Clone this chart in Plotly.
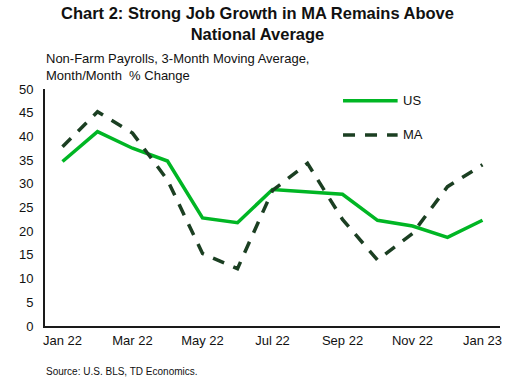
import plotly.graph_objects as go

months = ["Jan 22", "Feb 22", "Mar 22", "Apr 22", "May 22", "Jun 22", "Jul 22",
          "Aug 22", "Sep 22", "Oct 22", "Nov 22", "Dec 22", "Jan 23"]
us = [34.7, 41.0, 37.5, 34.8, 22.8, 21.8, 28.8, 28.3, 27.8, 22.3, 21.1, 18.7, 22.3]
ma = [37.8, 45.2, 40.7, 30.8, 15.3, 12.1, 28.6, 34.3, 22.5, 13.9, 19.5, 29.4, 34.0]
tick_labels = months[::2]
y_ticks = list(range(0, 51, 5))

US_COLOR = "#00B624"
MA_COLOR = "#1B3F22"
FONT = "Liberation Sans, Arial, sans-serif"

fig = go.Figure()
fig.add_trace(go.Scatter(x=months, y=us, mode="lines", name="US",
                         line=dict(color=US_COLOR, width=3.5)))
fig.add_trace(go.Scatter(x=months, y=ma, mode="lines", name="MA",
                         line=dict(color=MA_COLOR, width=3.5, dash="12px,10px")))

# custom legend
fig.add_shape(type="line", xref="paper", yref="paper", x0=0.655, x1=0.775, y0=0.95, y1=0.95,
              line=dict(color=US_COLOR, width=3.5))
fig.add_shape(type="line", xref="paper", yref="paper", x0=0.655, x1=0.775, y0=0.806, y1=0.806,
              line=dict(color=MA_COLOR, width=3.5, dash="12px,10px"))
fig.add_annotation(xref="paper", yref="paper", x=0.782, y=0.95, text="US", showarrow=False,
                   xanchor="left", yanchor="middle", font=dict(size=13, color="#111"))
fig.add_annotation(xref="paper", yref="paper", x=0.782, y=0.806, text="MA", showarrow=False,
                   xanchor="left", yanchor="middle", font=dict(size=13, color="#111"))

fig.update_layout(
    width=516, height=385,
    margin=dict(l=45, r=16, t=89, b=59),
    paper_bgcolor="white", plot_bgcolor="white",
    showlegend=False,
    font=dict(family=FONT, size=13, color="#111"),
)
fig.add_annotation(xref="paper", yref="paper", x=0.468, y=1.0, yshift=87,
                   text="<b>Chart 2: Strong Job Growth in MA Remains Above<br>National Average</b>",
                   showarrow=False, xanchor="center", yanchor="top", align="center",
                   font=dict(size=16.5, color="#111", family=FONT))
fig.add_annotation(xref="paper", yref="paper", x=-0.002, y=1.0, yshift=4,
                   text="Non-Farm Payrolls, 3-Month Moving Average,<br>Month/Month  % Change",
                   showarrow=False, xanchor="left", yanchor="bottom", align="left",
                   font=dict(size=13, color="#111"))
fig.add_annotation(xref="paper", yref="paper", x=-0.002, y=0, yshift=-38,
                   text="Source: U.S. BLS, TD Economics.",
                   showarrow=False, xanchor="left", yanchor="top", align="left",
                   font=dict(size=10, color="#111"))

fig.update_xaxes(type="category", range=[-0.5, 12.5], tickvals=tick_labels, ticktext=tick_labels,
                 showgrid=False, showline=True, linecolor="#1a1a1a", linewidth=2,
                 ticks="", ticklabelstandoff=1, tickfont=dict(size=13))
fig.update_yaxes(range=[0, 50], tickvals=y_ticks, showgrid=False, showline=True,
                 linecolor="#1a1a1a", linewidth=2, ticks="", zeroline=False,
                 ticklabelstandoff=7, tickfont=dict(size=13))

fig.write_html("out.html", config={"displayModeBar": False},
               post_script="document.body.style.margin='0';")
